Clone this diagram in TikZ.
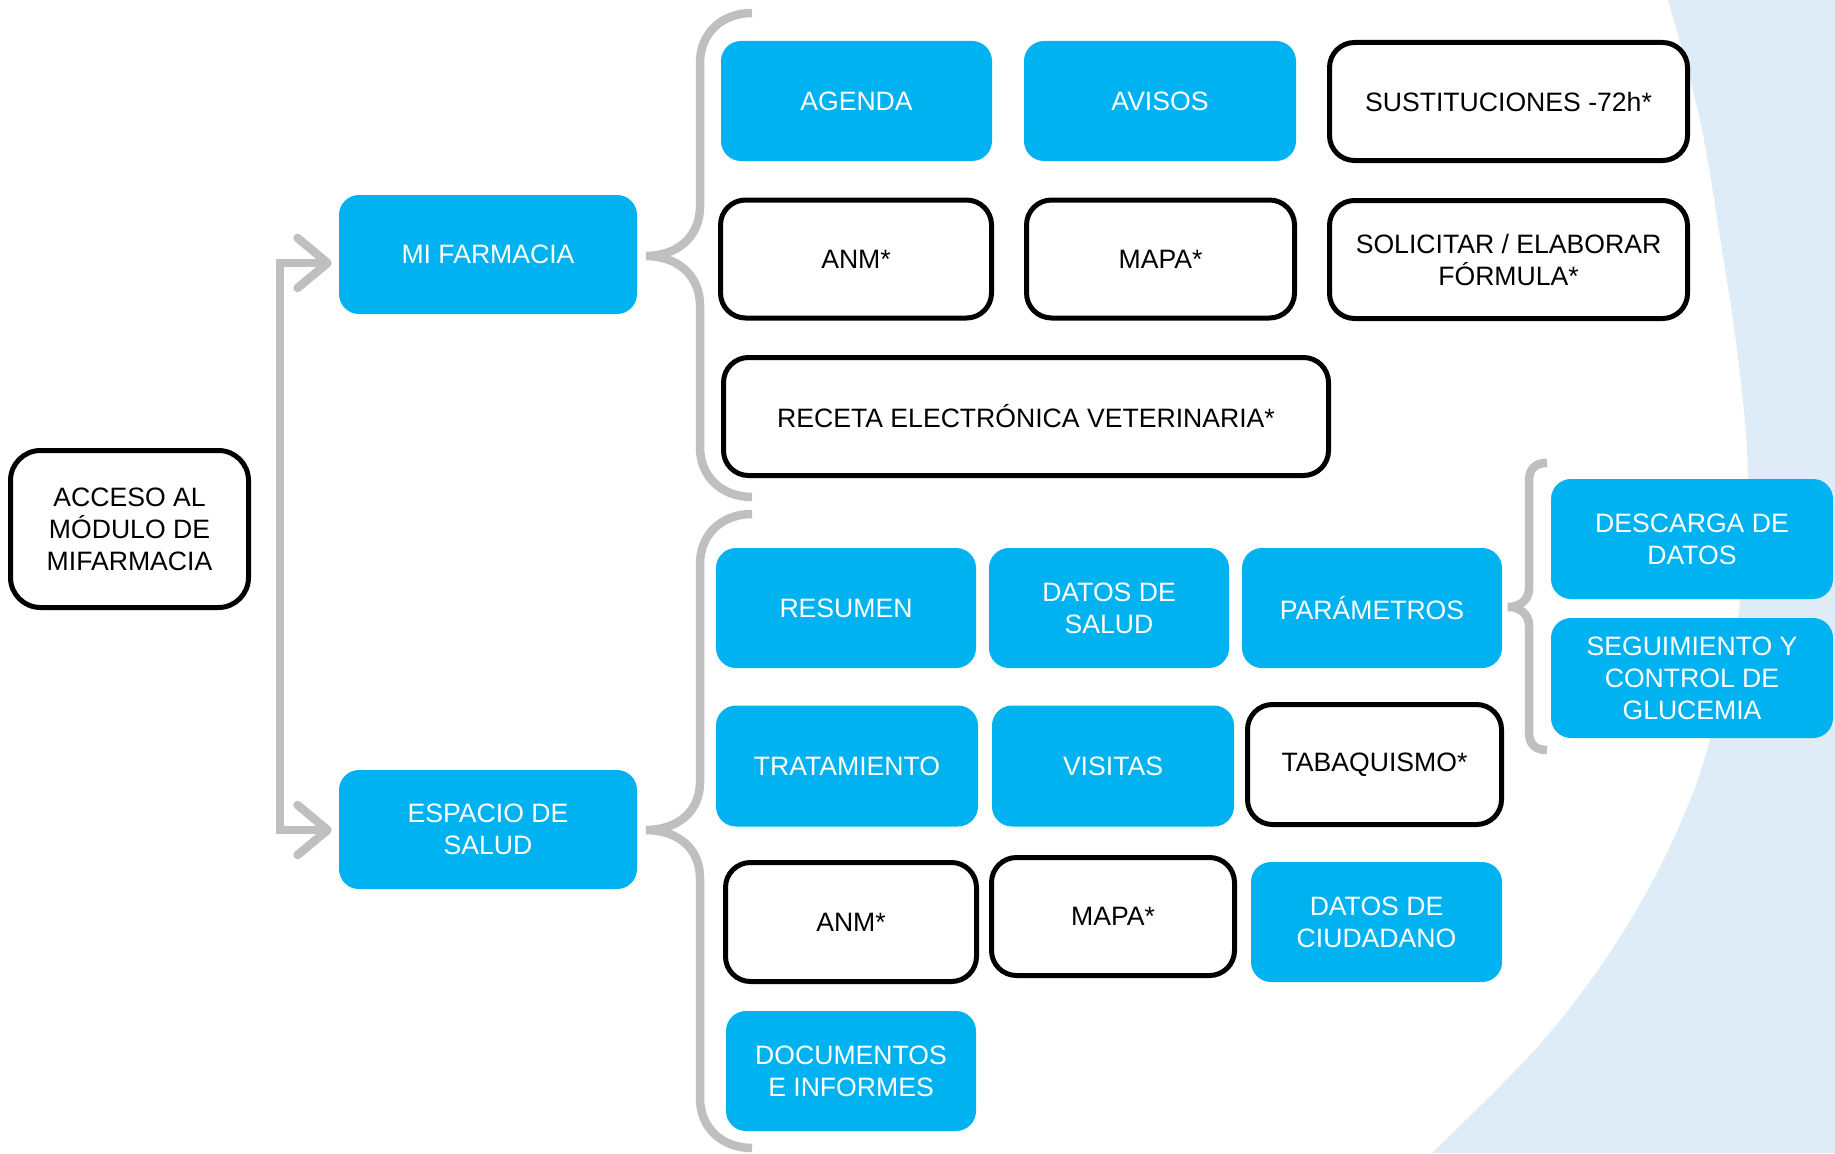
\documentclass[tikz,border=0pt]{standalone}
\usepackage{fontspec}
\setmainfont{Liberation Sans}
\usetikzlibrary{arrows.meta,calc}
\definecolor{bblue}{HTML}{00B2EF}
\definecolor{bgblue}{HTML}{DEECF7}
\definecolor{lgray}{HTML}{BFBFBF}
\begin{document}
\begin{tikzpicture}[x=1pt,y=-1pt,
  lbl/.style={font=\fontsize{26.6}{32}\selectfont, align=center, inner sep=0pt},
  bluebox/.style={lbl, fill=bblue, text=white, rounded corners=20pt},
  blackbox/.style={lbl, draw=black, line width=5pt, fill=white, text=black, rounded corners=25pt},
  bracepath/.style={draw=lgray, line width=8.5pt},
  conn/.style={draw=lgray, line width=8.5pt, line join=miter,
    {Straight Barb[length=30pt,width=50pt,round]}-{Straight Barb[length=30pt,width=50pt,round]},
    shorten <=7pt, shorten >=7pt}
]
\useasboundingbox (0,0) rectangle (1835,1153);
\fill[white] (0,0) rectangle (1835,1153);
\fill[bgblue] (1835,0) -- plot[smooth, tension=0.6] coordinates {(1668,0) (1700,120) (1722,250) (1737,350) (1747,450) (1746,530) (1739,610) (1727,675) (1710,740) (1689,803) (1650,886) (1598,970) (1532,1053) (1432,1153)} -- (1835,1153) -- cycle;

% left
\node[blackbox, rounded corners=30pt, minimum width=238pt, minimum height=157pt] (acc) at (129.5,529) {ACCESO AL\\MÓDULO DE\\MIFARMACIA};
\node[bluebox, minimum width=298pt, minimum height=119pt] (mif) at (488,254.5) {MI FARMACIA};
\node[bluebox, minimum width=298pt, minimum height=119pt] (esp) at (488,829.5) {ESPACIO DE\\SALUD};

\coordinate (ja) at (280,263);
\coordinate (jb) at (280,830);
\draw[conn] (ja -| mif.west) -- (ja) -- (jb) -- (jb -| esp.west);

% top brace
\draw[bracepath] (752,13) .. controls (722,13) and (700,33) .. (700,63) -- (700,206)
  .. controls (700,238) and (676,256) .. (646,256)
  .. controls (676,256) and (700,274) .. (700,306) -- (700,447)
  .. controls (700,477) and (722,497) .. (752,497);
% lower brace
\draw[bracepath] (752,514) .. controls (722,514) and (700,534) .. (700,564) -- (700,782)
  .. controls (700,813) and (676,830) .. (646,830)
  .. controls (676,830) and (700,847) .. (700,878) -- (700,1098)
  .. controls (700,1128) and (722,1148) .. (752,1148);
% small brace
\draw[bracepath] (1547,463) .. controls (1535,463) and (1529,469) .. (1529,481) -- (1529,588)
  .. controls (1529,600) and (1520,607) .. (1508,607)
  .. controls (1520,607) and (1529,614) .. (1529,626) -- (1529,732)
  .. controls (1529,744) and (1535,750) .. (1547,750);

% Mi farmacia group
\node[bluebox, minimum width=271pt, minimum height=120pt] (agenda) at (856.5,101) {AGENDA};
\node[bluebox, minimum width=272pt, minimum height=120pt] (avisos) at (1160,101) {AVISOS};
\node[blackbox, minimum width=358pt, minimum height=118pt] (sust) at (1508.5,101.5) {SUSTITUCIONES -72h*};
\node[blackbox, minimum width=271pt, minimum height=118pt] (anma) at (856,259) {ANM*};
\node[blackbox, minimum width=268pt, minimum height=118pt] (mapaa) at (1160.5,259) {MAPA*};
\node[blackbox, minimum width=358pt, minimum height=118pt] (solic) at (1508.5,259.5) {SOLICITAR / ELABORAR\\FÓRMULA*};
\node[blackbox, minimum width=605pt, minimum height=118pt] (receta) at (1026,416.5) {RECETA ELECTRÓNICA VETERINARIA*};

% Espacio de salud group
\node[bluebox, minimum width=260pt, minimum height=120pt] (resumen) at (846,608) {RESUMEN};
\node[bluebox, minimum width=240pt, minimum height=120pt] (dsalud) at (1109,608) {DATOS DE\\SALUD};
\node[bluebox, minimum width=260pt, minimum height=120pt] (param) at (1372,608) {PARÁMETROS};
\node[bluebox, minimum width=262pt, minimum height=121pt] (trat) at (847,766) {TRATAMIENTO};
\node[bluebox, minimum width=242pt, minimum height=121pt] (visitas) at (1113,766) {VISITAS};
\node[blackbox, minimum width=254pt, minimum height=120pt] (tabaq) at (1374.5,764.5) {TABAQUISMO*};
\node[blackbox, minimum width=251pt, minimum height=119pt] (anmb) at (851,922) {ANM*};
\node[blackbox, minimum width=243pt, minimum height=118pt] (mapab) at (1113,916.5) {MAPA*};
\node[bluebox, minimum width=251pt, minimum height=120pt] (dciud) at (1376.5,922) {DATOS DE\\CIUDADANO};
\node[bluebox, minimum width=250pt, minimum height=120pt] (docs) at (851,1071) {DOCUMENTOS\\E INFORMES};

% Parametros group
\node[bluebox, minimum width=282pt, minimum height=120pt] (descarga) at (1692,539) {DESCARGA DE\\DATOS};
\node[bluebox, minimum width=282pt, minimum height=120pt] (seguim) at (1692,678) {SEGUIMIENTO Y\\CONTROL DE\\GLUCEMIA};
\end{tikzpicture}
\end{document}
